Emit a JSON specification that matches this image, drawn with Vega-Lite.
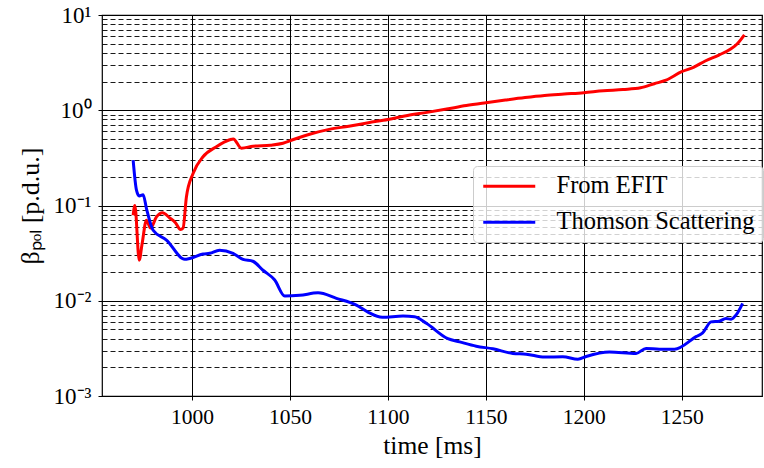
{
  "$schema": "https://vega.github.io/schema/vega-lite/v6.json",
  "width": 660,
  "height": 381,
  "autosize": "none",
  "padding": {"left": 102, "top": 15, "right": 2, "bottom": 72},
  "background": "white",
  "config": {
    "font": "Liberation Serif",
    "axis": {"labelFont": "Liberation Serif", "titleFont": "Liberation Serif"},
    "legend": {"labelFont": "Liberation Serif"},
    "view": {"stroke": "black", "strokeWidth": 1.2}
  },
  "datasets": {
    "efit": [
      {"t": 969.9, "v": 0.079}, {"t": 970.8, "v": 0.10}, {"t": 973.0, "v": 0.0267}, {"t": 974.5, "v": 0.040},
      {"t": 976.7, "v": 0.070}, {"t": 978.8, "v": 0.058}, {"t": 981.8, "v": 0.076}, {"t": 984.9, "v": 0.084},
      {"t": 988.6, "v": 0.074}, {"t": 991.5, "v": 0.066}, {"t": 994.1, "v": 0.056}, {"t": 995.4, "v": 0.058},
      {"t": 997.1, "v": 0.123}, {"t": 1000.5, "v": 0.217}, {"t": 1005.6, "v": 0.325}, {"t": 1012.4, "v": 0.414},
      {"t": 1019.2, "v": 0.49}, {"t": 1021, "v": 0.50}, {"t": 1025.2, "v": 0.40}, {"t": 1031.1, "v": 0.42},
      {"t": 1040, "v": 0.43}, {"t": 1046.4, "v": 0.45}, {"t": 1051.4, "v": 0.49}, {"t": 1060, "v": 0.56},
      {"t": 1070, "v": 0.63}, {"t": 1080, "v": 0.68}, {"t": 1090, "v": 0.74}, {"t": 1100, "v": 0.80},
      {"t": 1110, "v": 0.88}, {"t": 1120, "v": 0.95}, {"t": 1130, "v": 1.03}, {"t": 1140, "v": 1.12},
      {"t": 1150, "v": 1.2}, {"t": 1160, "v": 1.28}, {"t": 1170, "v": 1.36}, {"t": 1180, "v": 1.43},
      {"t": 1190, "v": 1.48}, {"t": 1200, "v": 1.53}, {"t": 1210, "v": 1.60}, {"t": 1220, "v": 1.65},
      {"t": 1229, "v": 1.72}, {"t": 1236, "v": 1.90}, {"t": 1242, "v": 2.07}, {"t": 1250, "v": 2.54},
      {"t": 1256, "v": 2.82}, {"t": 1262, "v": 3.29}, {"t": 1269, "v": 3.8}, {"t": 1275, "v": 4.4},
      {"t": 1278, "v": 4.9}, {"t": 1282, "v": 6.2}
    ],
    "ts": [
      {"t": 969.9, "v": 0.30}, {"t": 971.6, "v": 0.145}, {"t": 973.0, "v": 0.126}, {"t": 975.0, "v": 0.13},
      {"t": 976.7, "v": 0.093}, {"t": 980.1, "v": 0.055}, {"t": 986.9, "v": 0.0434}, {"t": 996.3, "v": 0.0272},
      {"t": 998.8, "v": 0.0278}, {"t": 1005.6, "v": 0.031}, {"t": 1009, "v": 0.0315}, {"t": 1014, "v": 0.034},
      {"t": 1020.9, "v": 0.0315}, {"t": 1026, "v": 0.0272}, {"t": 1031, "v": 0.026}, {"t": 1036.2, "v": 0.0209},
      {"t": 1042.2, "v": 0.0165}, {"t": 1047.3, "v": 0.0112}, {"t": 1055, "v": 0.0114}, {"t": 1064.3, "v": 0.0121},
      {"t": 1073.7, "v": 0.0106}, {"t": 1083.9, "v": 0.0090}, {"t": 1089.8, "v": 0.0076}, {"t": 1097.1, "v": 0.0067},
      {"t": 1107.7, "v": 0.0069}, {"t": 1113.6, "v": 0.0068}, {"t": 1119.6, "v": 0.0058}, {"t": 1130.6, "v": 0.0040},
      {"t": 1136.6, "v": 0.0037}, {"t": 1145.1, "v": 0.00333}, {"t": 1153.6, "v": 0.00313}, {"t": 1163.8, "v": 0.0028},
      {"t": 1170.6, "v": 0.00275}, {"t": 1180, "v": 0.00256}, {"t": 1189.3, "v": 0.00258}, {"t": 1197, "v": 0.00243},
      {"t": 1201.2, "v": 0.0026}, {"t": 1213.1, "v": 0.0029}, {"t": 1226.7, "v": 0.0028}, {"t": 1231.8, "v": 0.00316},
      {"t": 1238.6, "v": 0.0031}, {"t": 1246.3, "v": 0.0031}, {"t": 1257.3, "v": 0.0042}, {"t": 1260.7, "v": 0.0046},
      {"t": 1265, "v": 0.0060}, {"t": 1269.2, "v": 0.0061}, {"t": 1272.6, "v": 0.0065}, {"t": 1275.2, "v": 0.0064},
      {"t": 1277.8, "v": 0.0071}, {"t": 1281.1, "v": 0.0094}
    ]
  },
  "layer": [
    {
      "data": {"name": "efit"},
      "transform": [{"calculate": "'From EFIT'", "as": "series"}],
      "mark": {"type": "line", "strokeWidth": 3, "interpolate": "monotone"},
      "encoding": {
        "x": {
          "field": "t", "type": "quantitative",
          "scale": {"domain": [954, 1291], "nice": false, "zero": false},
          "axis": {
            "title": "time [ms]", "values": [1000, 1050, 1100, 1150, 1200, 1250], "format": "d",
            "grid": true, "gridColor": "black", "gridWidth": 1, "gridOpacity": 1,
            "domain": false, "tickColor": "black", "tickSize": 4,
            "labelFontSize": 21.5, "labelColor": "black", "labelPadding": 6,
            "titleFontSize": 25.5, "titleFontWeight": "normal", "titleColor": "black", "titlePadding": 6
          }
        },
        "y": {
          "field": "v", "type": "quantitative",
          "scale": {"type": "log", "domain": [0.001, 10], "nice": false},
          "axis": {
            "title": "βₚₒₗ [p.d.u.]",
            "values": [0.001, 0.002, 0.003, 0.004, 0.005, 0.006, 0.007, 0.008, 0.009,
                       0.01, 0.02, 0.03, 0.04, 0.05, 0.06, 0.07, 0.08, 0.09,
                       0.1, 0.2, 0.3, 0.4, 0.5, 0.6, 0.7, 0.8, 0.9,
                       1, 2, 3, 4, 5, 6, 7, 8, 9, 10],
            "labelExpr": "abs(log(datum.value)/LN10 - round(log(datum.value)/LN10)) < 1e-6 ? ({'-3': '10⁻³', '-2': '10⁻²', '-1': '10⁻¹', '0': '10⁰', '1': '10¹'})[toString(round(log(datum.value)/LN10))] : ''",
            "grid": true, "gridColor": "black", "gridOpacity": 1,
            "gridDash": {"condition": {"test": "abs(log(datum.value)/LN10 - round(log(datum.value)/LN10)) < 1e-6", "value": []}, "value": [5, 3]},
            "gridWidth": {"condition": {"test": "abs(log(datum.value)/LN10 - round(log(datum.value)/LN10)) < 1e-6", "value": 1.1}, "value": 0.9},
            "tickSize": {"condition": {"test": "abs(log(datum.value)/LN10 - round(log(datum.value)/LN10)) < 1e-6", "value": 4}, "value": 0},
            "domain": false, "tickColor": "black",
            "labelFontSize": 23, "labelColor": "black", "labelPadding": 7, "labelOverlap": false,
            "titleFontSize": 26, "titleFontWeight": "normal", "titleColor": "black", "titlePadding": 10
          }
        },
        "color": {
          "field": "series", "type": "nominal",
          "scale": {"domain": ["From EFIT", "Thomson Scattering"], "range": ["#ff0000", "#0000ff"]},
          "legend": {
            "title": null, "orient": "none", "legendX": 371, "legendY": 151,
            "symbolType": "M-1,0H4.2", "symbolSize": 400, "symbolStrokeWidth": 3,
            "labelFontSize": 24.5, "labelColor": "black", "labelOffset": 51,
            "rowPadding": 11, "padding": 8,
            "fillColor": "rgba(255,255,255,0.8)", "strokeColor": "#cccccc", "cornerRadius": 4,
            "labelLimit": 400
          }
        }
      }
    },
    {
      "data": {"name": "ts"},
      "transform": [{"calculate": "'Thomson Scattering'", "as": "series"}],
      "mark": {"type": "line", "strokeWidth": 3, "interpolate": "monotone"},
      "encoding": {
        "x": {"field": "t", "type": "quantitative"},
        "y": {"field": "v", "type": "quantitative"},
        "color": {"field": "series", "type": "nominal"}
      }
    }
  ]
}
